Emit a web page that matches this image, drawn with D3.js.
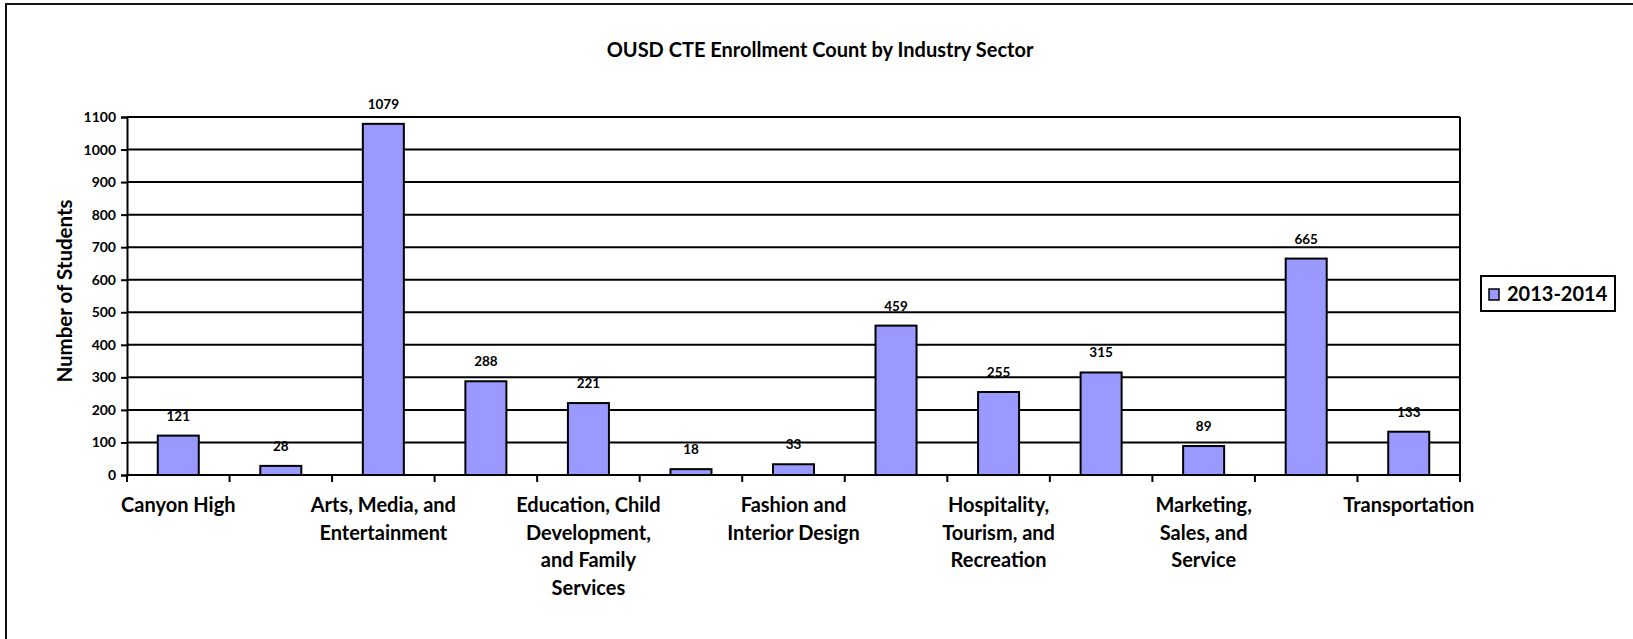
<!DOCTYPE html>
<html>
<head>
<meta charset="utf-8">
<script src="https://cdn.jsdelivr.net/npm/d3@7"></script>
<style>
  html, body { margin: 0; padding: 0; background: #fff; }
  svg { display: block; }
  text { font-family: Lato, "Open Sans", sans-serif; font-weight: bold; fill: #000; }
</style>
</head>
<body>
<svg id="chart" width="1633" height="639"></svg>
<script>
// ---- data ----
const title = "OUSD CTE Enrollment Count by Industry Sector";
const yAxisTitle = "Number of Students";
const seriesName = "2013-2014";
// Category labels as shown (Excel skipped every other label); "|" marks a line break
const categoryLabels = [
  "Canyon High", "",
  "Arts, Media, and|Entertainment", "",
  "Education, Child|Development,|and Family|Services", "",
  "Fashion and|Interior Design", "",
  "Hospitality,|Tourism, and|Recreation", "",
  "Marketing,|Sales, and|Service", "",
  "Transportation"
];
const values = [121, 28, 1079, 288, 221, 18, 33, 459, 255, 315, 89, 665, 133];
const yTicks = [0, 100, 200, 300, 400, 500, 600, 700, 800, 900, 1000, 1100];

// ---- layout ----
const svg = d3.select("#chart");
const plot = { left: 127, right: 1460, top: 117, bottom: 475 };
const barColor = "#9999FF";

const idx = d3.range(values.length);
const x = d3.scaleBand().domain(idx).range([plot.left, plot.right]).paddingInner(0.6).paddingOuter(0.3);
const xEdge = d3.scaleLinear().domain([0, values.length]).range([plot.left, plot.right]);
const y = d3.scaleLinear().domain([0, 1100]).range([plot.bottom, plot.top]);

// outer frame (cut off on right and bottom like the reference)
svg.append("rect").attr("x", 6).attr("y", 4).attr("width", 1660).attr("height", 680)
  .attr("fill", "none").attr("stroke", "#111").attr("stroke-width", 2);

// title
svg.append("text").attr("x", 820).attr("y", 57).attr("text-anchor", "middle")
  .style("font-size", "20px").text(title);

// gridlines
svg.append("g").selectAll("line").data(yTicks).join("line")
  .attr("x1", plot.left).attr("x2", plot.right)
  .attr("y1", d => y(d)).attr("y2", d => y(d))
  .attr("stroke", "#000").attr("stroke-width", 2);

// plot right border
svg.append("line").attr("x1", plot.right).attr("x2", plot.right)
  .attr("y1", y(1100)).attr("y2", y(0)).attr("stroke", "#000").attr("stroke-width", 2);

// y axis
const yAxis = d3.axisLeft(y).tickValues(yTicks).tickSize(6).tickPadding(5).tickFormat(d3.format("d"));
const gy = svg.append("g").attr("transform", `translate(${plot.left},0)`).call(yAxis);
gy.select(".domain").attr("stroke", "#000").attr("stroke-width", 2);
gy.selectAll(".tick line").attr("stroke", "#000").attr("stroke-width", 2);
gy.selectAll(".tick text").style("font-size", "14px").style("font-family", "Lato, sans-serif").style("font-weight", "bold");

// x axis ticks at category boundaries
const gx = svg.append("g");
gx.append("line").attr("x1", plot.left).attr("x2", plot.right)
  .attr("y1", y(0)).attr("y2", y(0)).attr("stroke", "#000").attr("stroke-width", 2);
gx.selectAll("line.t").data(d3.range(values.length + 1)).join("line").attr("class", "t")
  .attr("x1", d => xEdge(d)).attr("x2", d => xEdge(d))
  .attr("y1", y(0)).attr("y2", y(0) + 7)
  .attr("stroke", "#000").attr("stroke-width", 2);

// category labels
const labelG = svg.append("g");
idx.forEach(i => {
  const lab = categoryLabels[i];
  if (!lab) return;
  const cx = x(i) + x.bandwidth() / 2;
  const t = labelG.append("text")
    .attr("x", cx)
    .attr("y", 512)
    .attr("text-anchor", "middle")
    .style("font-size", "20px");
  lab.split("|").forEach((line, k) => {
    t.append("tspan").attr("x", cx).attr("y", 512 + k * 27.5).text(line);
  });
});

// bars
svg.append("g").selectAll("rect").data(values).join("rect")
  .attr("x", (d, i) => x(i))
  .attr("width", x.bandwidth())
  .attr("y", d => y(d))
  .attr("height", d => y(0) - y(d))
  .attr("fill", barColor).attr("stroke", "#000").attr("stroke-width", 2);

// data labels
svg.append("g").selectAll("text").data(values).join("text")
  .attr("x", (d, i) => x(i) + x.bandwidth() / 2)
  .attr("y", d => y(d) - 15)
  .attr("text-anchor", "middle")
  .style("font-size", "13.5px")
  .text(d => d);

// y axis title
svg.append("text")
  .attr("transform", `translate(72,291) rotate(-90)`)
  .attr("text-anchor", "middle")
  .style("font-size", "20.5px")
  .text(yAxisTitle);

// legend
const lg = svg.append("g");
lg.append("rect").attr("x", 1481).attr("y", 276).attr("width", 134).attr("height", 35)
  .attr("fill", "#fff").attr("stroke", "#000").attr("stroke-width", 2);
lg.append("rect").attr("x", 1489).attr("y", 289).attr("width", 10).attr("height", 11)
  .attr("fill", barColor).attr("stroke", "#000").attr("stroke-width", 1.5);
lg.append("text").attr("x", 1507).attr("y", 301).style("font-size", "20px").text(seriesName);
</script>
</body>
</html>
